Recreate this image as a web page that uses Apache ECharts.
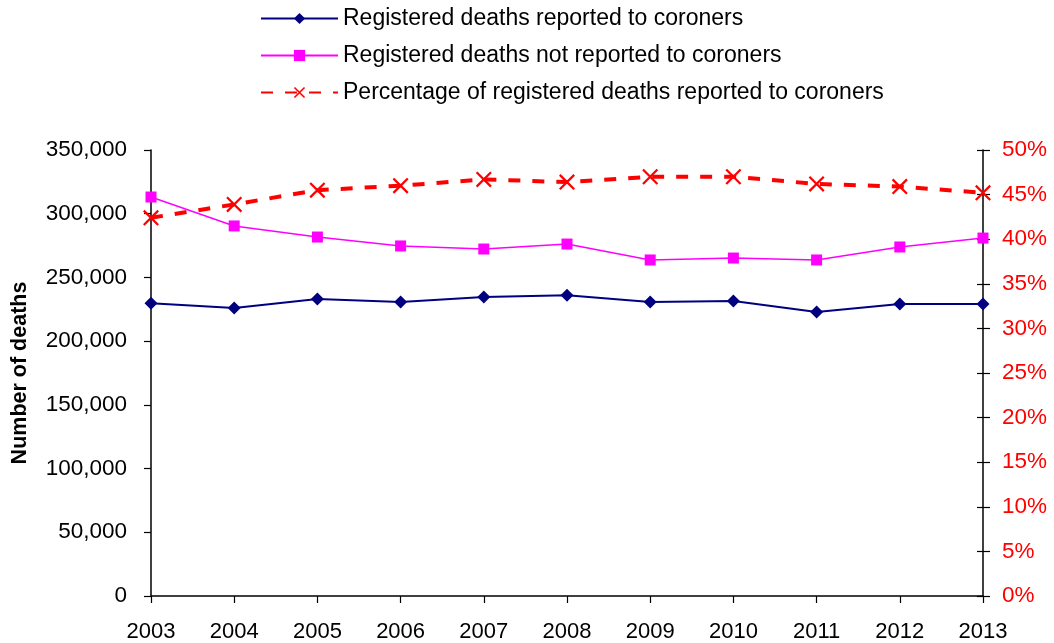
<!DOCTYPE html>
<html>
<head>
<meta charset="utf-8">
<script src="https://cdn.jsdelivr.net/npm/echarts@6/dist/echarts.min.js"></script>
<style>html,body{margin:0;padding:0;background:#fff}#c{width:1054px;height:643px}</style>
</head>
<body>
<div id="c"></div>
<script>
const years = ['2003','2004','2005','2006','2007','2008','2009','2010','2011','2012','2013'];
const reported = [229800, 226000, 233000, 230700, 234600, 236000, 230700, 231500, 222900, 229100, 229100];
const notReported = [313100, 290400, 281700, 274700, 272300, 276200, 263700, 265200, 263700, 273900, 280900];
const percentReported = [0.424, 0.439, 0.455, 0.460, 0.467, 0.464, 0.470, 0.470, 0.462, 0.459, 0.452];
const seriesNames = ['Registered deaths reported to coroners', 'Registered deaths not reported to coroners', 'Percentage of registered deaths reported to coroners'];

const FONT = '"Liberation Sans", Arial, sans-serif';
const crossPath = 'path://M0,1 L1,0 L10,9 L9,10 Z M9,0 L10,1 L1,10 L0,9 Z';

const chart = echarts.init(document.getElementById('c'));
chart.setOption({
  animation: false,
  textStyle: { fontFamily: FONT },
  legend: {
    orient: 'vertical',
    left: 255,
    top: 2,
    itemWidth: 77,
    itemHeight: 14,
    itemGap: 14,
    textStyle: { fontFamily: FONT, fontSize: 23, color: '#000' },
    data: seriesNames
  },
  grid: { left: 151, right: 71, top: 150, bottom: 47, containLabel: false, outerBoundsMode: 'none' },
  xAxis: {
    type: 'category',
    data: years,
    boundaryGap: false,
    axisLine: { lineStyle: { color: '#000', width: 1.5 } },
    axisTick: { show: true, length: 7, lineStyle: { color: '#000', width: 1.2 } },
    axisLabel: { color: '#000', fontSize: 22, margin: 25, fontFamily: FONT },
    splitLine: { show: false }
  },
  yAxis: [
    {
      type: 'value', min: 0, max: 350000, interval: 50000,
      name: 'Number of deaths', nameLocation: 'middle', nameGap: 120, nameRotate: 90,
      nameTextStyle: { fontSize: 21.5, fontWeight: 'bold', color: '#000', fontFamily: FONT },
      axisLine: { show: true, lineStyle: { color: '#000', width: 1.5 } },
      axisTick: { show: true, length: 7, lineStyle: { color: '#000', width: 1.2 } },
      axisLabel: { color: '#000', fontSize: 22.5, margin: 24, fontFamily: FONT,
        formatter: v => v.toLocaleString('en-US') },
      splitLine: { show: false }
    },
    {
      type: 'value', position: 'right', min: 0, max: 0.5, interval: 0.05,
      axisLine: { show: true, lineStyle: { color: '#000', width: 1.5 } },
      axisTick: { show: true, length: 7, lineStyle: { color: '#000', width: 1.2 } },
      axisLabel: { color: '#ff0000', fontSize: 22.5, margin: 19, fontFamily: FONT,
        formatter: v => Math.round(v * 100) + '%' },
      splitLine: { show: false }
    },
    {
      type: 'value', position: 'right', min: 0, max: 0.5, interval: 0.05,
      axisLine: { show: false },
      axisTick: { show: true, inside: true, length: 6, lineStyle: { color: '#000', width: 1.2 } },
      axisLabel: { show: false },
      splitLine: { show: false }
    }
  ],
  series: [
    {
      name: seriesNames[0], type: 'line', data: reported, yAxisIndex: 0,
      symbol: 'diamond', symbolSize: 13,
      itemStyle: { color: '#000080' },
      lineStyle: { color: '#000080', width: 2 }
    },
    {
      name: seriesNames[1], type: 'line', data: notReported, yAxisIndex: 0,
      symbol: 'rect', symbolSize: 11,
      itemStyle: { color: '#ff00ff' },
      lineStyle: { color: '#ff00ff', width: 1.5 }
    },
    {
      name: seriesNames[2], type: 'line', data: percentReported, yAxisIndex: 1,
      symbol: crossPath, symbolSize: 16,
      itemStyle: { color: '#ff0000' },
      lineStyle: { color: '#ff0000', width: 4, type: [12, 12] }
    }
  ]
});
</script>
</body>
</html>
